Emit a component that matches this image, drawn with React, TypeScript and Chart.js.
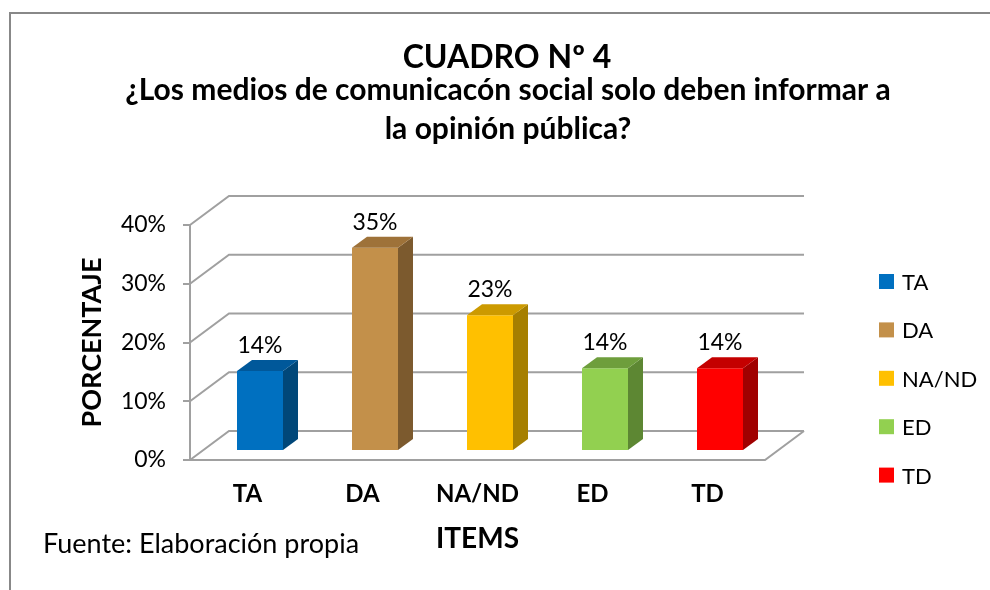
import React, { useEffect, useRef } from 'react';
import { Chart, registerables } from 'chart.js';

Chart.register(...registerables);

// ---- data ----
const categories = ['TA', 'DA', 'NA/ND', 'ED', 'TD'];
const percentValues = [13.6, 34.6, 23.1, 14.1, 14.1];
const yTickValues = [0, 10, 20, 30, 40];
const titleText = 'CUADRO Nº 4';
const subtitleLines = [
  '¿Los medios de comunicacón social solo deben informar a',
  'la opinión pública?',
];
const yAxisTitle = 'PORCENTAJE';
const xAxisTitle = 'ITEMS';
const footnote = 'Fuente: Elaboración propia';

// ---- styles ----
const frontColors = ['#0070C0', '#C3904A', '#FFC000', '#92D050', '#FF0000'];
const topColors = ['#00589A', '#9E7239', '#CC9A00', '#6E9E3C', '#C40000'];
const sideColors = ['#004779', '#7C5A2E', '#A67F00', '#5D8733', '#A00000'];
const FONT = 'Lato';
const GRID = '#A0A0A0';
const WALL_DX = 39;
const WALL_DY = -29;
const BAR_SHIFT_X = 12.5;
const BAR_SHIFT_Y = -9;
const BAR_DX = 15;
const BAR_DY = -11;

const threeDPlugin = {
  id: 'threeD',
  beforeDraw(chart: any) {
    const { ctx, chartArea, scales } = chart;
    const y = scales.y;
    ctx.save();
    ctx.fillStyle = '#ffffff';
    ctx.fillRect(0, 0, chart.width, chart.height);
    // outer frame
    ctx.strokeStyle = '#888888';
    ctx.lineWidth = 2;
    ctx.strokeRect(10, 13, chart.width + 40, chart.height + 40);
    // walls and floor
    const L = chartArea.left;
    const R = chartArea.right;
    ctx.strokeStyle = GRID;
    ctx.lineWidth = 2;
    ctx.lineJoin = 'miter';
    y.ticks.forEach((t: any) => {
      const py = y.getPixelForValue(t.value);
      ctx.beginPath();
      ctx.moveTo(L, py);
      ctx.lineTo(L + WALL_DX, py + WALL_DY);
      ctx.lineTo(R + WALL_DX, py + WALL_DY);
      ctx.stroke();
    });
    const p0 = y.getPixelForValue(0);
    ctx.beginPath();
    ctx.moveTo(L, p0);
    ctx.lineTo(R, p0);
    ctx.lineTo(R + WALL_DX, p0 + WALL_DY);
    ctx.stroke();
    ctx.restore();
  },
  beforeDatasetsDraw(chart: any) {
    chart.ctx.save();
    chart.ctx.translate(BAR_SHIFT_X, BAR_SHIFT_Y);
  },
  afterDatasetsDraw(chart: any) {
    const { ctx } = chart;
    const meta = chart.getDatasetMeta(0);
    meta.data.forEach((el: any, i: number) => {
      const { x, y, base, width } = el.getProps(['x', 'y', 'base', 'width'], true);
      const l = x - width / 2;
      const r = x + width / 2;
      // side face
      ctx.fillStyle = sideColors[i];
      ctx.beginPath();
      ctx.moveTo(r, y);
      ctx.lineTo(r + BAR_DX, y + BAR_DY);
      ctx.lineTo(r + BAR_DX, base + BAR_DY);
      ctx.lineTo(r, base);
      ctx.closePath();
      ctx.fill();
      // top face
      ctx.fillStyle = topColors[i];
      ctx.beginPath();
      ctx.moveTo(l, y);
      ctx.lineTo(l + BAR_DX, y + BAR_DY);
      ctx.lineTo(r + BAR_DX, y + BAR_DY);
      ctx.lineTo(r, y);
      ctx.closePath();
      ctx.fill();
      // value label
      ctx.fillStyle = '#000000';
      ctx.font = `23px ${FONT}`;
      ctx.textAlign = 'center';
      ctx.textBaseline = 'alphabetic';
      ctx.fillText(Math.round(percentValues[i]) + '%', x, y - 18);
    });
    ctx.restore();
  },
  afterDraw(chart: any) {
    const { ctx } = chart;
    ctx.save();
    ctx.fillStyle = '#000000';
    ctx.textAlign = 'center';
    ctx.textBaseline = 'alphabetic';
    ctx.font = `bold 32px ${FONT}`;
    ctx.fillText(titleText, 507, 68);
    ctx.font = `bold 30px ${FONT}`;
    ctx.fillText(subtitleLines[0], 508, 100);
    ctx.fillText(subtitleLines[1], 508, 139);
    // footnote
    ctx.textAlign = 'left';
    ctx.font = `27px ${FONT}`;
    ctx.fillText(footnote, 43, 553);
    // legend
    ctx.font = `22px ${FONT}`;
    categories.forEach((c, i) => {
      const top = 274 + 48.4 * i;
      ctx.fillStyle = frontColors[i];
      ctx.fillRect(879, top, 15, 15);
      ctx.fillStyle = '#000000';
      ctx.fillText(c, 902, top + 16);
    });
    ctx.restore();
  },
};

export default function App() {
  const canvasRef = useRef<HTMLCanvasElement | null>(null);

  useEffect(() => {
    if (!canvasRef.current) return;
    const chart = new Chart(canvasRef.current, {
      type: 'bar',
      data: {
        labels: categories,
        datasets: [
          {
            data: percentValues,
            backgroundColor: frontColors,
            borderWidth: 0,
            categoryPercentage: 1,
            barPercentage: 0.4,
            clip: false as any,
          },
        ],
      },
      options: {
        responsive: false,
        animation: false,
        events: [],
        layout: { padding: { left: 0, right: 225, top: 225, bottom: 0 } },
        plugins: {
          legend: { display: false },
          tooltip: { enabled: false },
          title: { display: false },
        },
        scales: {
          x: {
            type: 'category',
            grid: { display: false, drawTicks: false },
            border: { display: false },
            ticks: {
              padding: 20,
              color: '#000000',
              font: { family: FONT, size: 24, weight: 'bold' },
              maxRotation: 0,
              autoSkip: false,
            },
            title: {
              display: true,
              text: xAxisTitle,
              color: '#000000',
              font: { family: FONT, size: 28, weight: 'bold' },
              padding: { top: 0, bottom: 34 },
            },
            afterFit: (s: any) => {
              s.height = 130;
            },
          },
          y: {
            type: 'linear',
            min: 0,
            max: 40,
            grid: {
              display: true,
              drawOnChartArea: false,
              drawTicks: true,
              tickLength: 7,
              color: GRID,
              lineWidth: 2,
            },
            border: { display: true, color: GRID, width: 2 },
            afterBuildTicks: (s: any) => {
              s.ticks = yTickValues.map((v) => ({ value: v }));
            },
            ticks: {
              padding: 17,
              color: '#000000',
              font: { family: FONT, size: 23 },
              callback: (v: any) => v + '%',
            },
            title: {
              display: true,
              text: yAxisTitle,
              color: '#000000',
              font: { family: FONT, size: 27, weight: 'bold' },
              padding: { top: 76, bottom: 0 },
            },
            afterFit: (s: any) => {
              s.width = 190;
            },
          },
        },
      },
      plugins: [threeDPlugin],
    });
    return () => chart.destroy();
  }, []);

  return (
    <div style={{ position: 'fixed', left: 0, top: 0, width: 990, height: 590, background: '#fff' }}>
      <canvas ref={canvasRef} width={990} height={590} style={{ display: 'block' }} />
    </div>
  );
}
